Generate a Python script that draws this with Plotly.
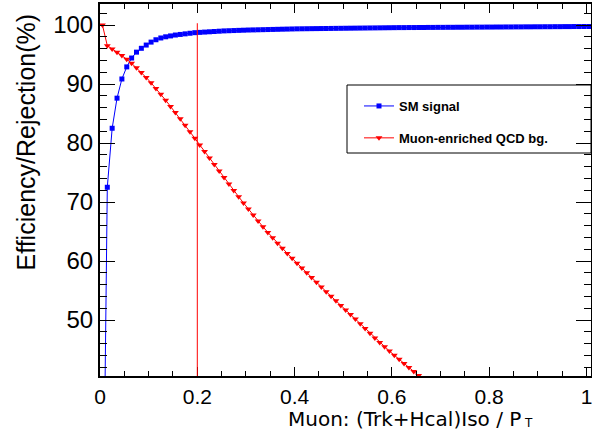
import plotly.graph_objects as go

# bin centres of the isolation variable
x_bins = [0.005, 0.015, 0.025, 0.035, 0.045, 0.055, 0.065, 0.075, 0.085, 0.095,
          0.105, 0.115, 0.125, 0.135, 0.145, 0.155, 0.165, 0.175, 0.185, 0.195,
          0.205, 0.215, 0.225, 0.235, 0.245, 0.255, 0.265, 0.275, 0.285, 0.295,
          0.305, 0.315, 0.325, 0.335, 0.345, 0.355, 0.365, 0.375, 0.385, 0.395,
          0.405, 0.415, 0.425, 0.435, 0.445, 0.455, 0.465, 0.475, 0.485, 0.495,
          0.505, 0.515, 0.525, 0.535, 0.545, 0.555, 0.565, 0.575, 0.585, 0.595,
          0.605, 0.615, 0.625, 0.635, 0.645, 0.655, 0.665, 0.675, 0.685, 0.695,
          0.705, 0.715, 0.725, 0.735, 0.745, 0.755, 0.765, 0.775, 0.785, 0.795,
          0.805, 0.815, 0.825, 0.835, 0.845, 0.855, 0.865, 0.875, 0.885, 0.895,
          0.905, 0.915, 0.925, 0.935, 0.945, 0.955, 0.965, 0.975, 0.985, 0.995,
          1.005]

# SM signal efficiency (%)
signal_eff = [0.0, 72.5, 82.5, 87.6, 90.85, 92.9, 94.4, 95.4, 96.05, 96.6,
              97.1, 97.5, 97.8, 98.0, 98.15, 98.3, 98.4, 98.5, 98.6, 98.7,
              98.75, 98.8, 98.85, 98.9, 98.95, 99.0, 99.03, 99.06, 99.09, 99.12,
              99.15, 99.17, 99.19, 99.21, 99.23, 99.25, 99.27, 99.29, 99.31, 99.33,
              99.35, 99.36, 99.37, 99.38, 99.39, 99.40, 99.41, 99.42, 99.43, 99.44,
              99.45, 99.46, 99.47, 99.48, 99.49, 99.50, 99.51, 99.52, 99.53, 99.54,
              99.55, 99.56, 99.56, 99.57, 99.57, 99.58, 99.58, 99.59, 99.59, 99.60,
              99.60, 99.61, 99.61, 99.62, 99.62, 99.63, 99.63, 99.64, 99.64, 99.65,
              99.65, 99.66, 99.66, 99.67, 99.67, 99.68, 99.68, 99.69, 99.69, 99.70,
              99.70, 99.71, 99.71, 99.72, 99.72, 99.73, 99.73, 99.74, 99.74, 99.75,
              99.75]

# Muon-enriched QCD background rejection (%)
qcd_rej = [100.0, 96.5, 95.95, 95.4, 94.85, 94.2, 93.5, 92.75, 91.95, 91.1,
           90.2, 89.25, 88.25, 87.25, 86.2, 85.15, 84.1, 83.0, 81.9, 80.8,
           79.68, 78.56, 77.45, 76.34, 75.24, 74.14, 73.05, 71.97, 70.90, 69.84,
           68.80, 67.78, 66.78, 65.80, 64.85, 63.93, 63.03, 62.15, 61.29, 60.45,
           59.62, 58.80, 57.99, 57.19, 56.39, 55.60, 54.81, 54.03, 53.25, 52.47,
           51.70, 50.93, 50.17, 49.37, 48.57, 47.77, 46.97, 46.17, 45.45, 44.74,
           44.03, 43.33, 42.63, 41.94, 41.26, 40.58, 39.90]

cut_value = 0.2
cut_top = 100.3
x_range = [0.0, 1.0093]
y_range = [40.51, 103.56]
x_tick_vals = [0, 0.2, 0.4, 0.6, 0.8, 1.0]
x_tick_text = ["0", "0.2", "0.4", "0.6", "0.8", "1"]
y_tick_vals = [50, 60, 70, 80, 90, 100]

FONT = "Liberation Sans, Arial, Helvetica, sans-serif"
WIDE_FONT = "DejaVu Sans, Liberation Sans, sans-serif"

fig = go.Figure()
fig.add_trace(go.Scatter(
    x=x_bins[:len(signal_eff)], y=signal_eff, mode="lines+markers",
    name="SM signal", legendgroup="a",
    line=dict(color="#0000ff", width=1),
    marker=dict(symbol="square", size=5, color="#0000ff"),
))
fig.add_trace(go.Scatter(
    x=x_bins[:len(qcd_rej)], y=qcd_rej, mode="lines+markers",
    name="Muon-enriched QCD bg.", legendgroup="b",
    line=dict(color="#ff0000", width=1),
    marker=dict(symbol="triangle-down", size=6, color="#ff0000"),
))

# cut line
fig.add_shape(type="line", xref="x", yref="y", x0=cut_value, x1=cut_value,
              y0=y_range[0], y1=cut_top, line=dict(color="#ff0000", width=1))

# legend box
fig.add_shape(type="rect", xref="paper", yref="paper",
              x0=(347 - 100) / 491, x1=1.0,
              y0=(376 - 153) / 372, y1=(376 - 85) / 372,
              line=dict(color="black", width=1), fillcolor="white", layer="below")

fig.update_layout(
    width=592, height=432,
    margin=dict(l=100, r=1, t=4, b=56, autoexpand=False),
    paper_bgcolor="white", plot_bgcolor="white",
    font=dict(family=FONT, color="black"),
    showlegend=True,
    legend=dict(
        x=(359 - 100) / 491, y=(376 - 91) / 372, xanchor="left", yanchor="top",
        bgcolor="rgba(0,0,0,0)", borderwidth=0,
        font=dict(family=FONT, size=13, color="black", weight="bold"),
        traceorder="grouped", tracegroupgap=12,
    ),
    xaxis=dict(
        range=x_range, showgrid=False, zeroline=False,
        showline=True, linecolor="black", linewidth=2, mirror="allticks",
        ticks="inside", ticklen=9, tickwidth=1, tickcolor="black",
        tickvals=x_tick_vals, ticktext=x_tick_text,
        tickfont=dict(family=FONT, size=21, color="black"),
        ticklabelstandoff=1, ticklabeloverflow="allow",
        minor=dict(dtick=0.05, tick0=0, ticks="inside", ticklen=5, tickcolor="black", tickwidth=1),
    ),
    yaxis=dict(
        range=y_range, showgrid=False, zeroline=False,
        showline=True, linecolor="black", linewidth=2, mirror="allticks",
        ticks="inside", ticklen=15, tickwidth=1, tickcolor="black",
        tickvals=y_tick_vals,
        tickfont=dict(family=FONT, size=24, color="black"),
        minor=dict(dtick=2, tick0=0, ticks="inside", ticklen=7, tickcolor="black", tickwidth=1),
    ),
    annotations=[
        dict(text="Efficiency/Rejection(%)", textangle=-90,
             xref="paper", yref="paper", x=(25 - 100) / 491, y=(376 - 12) / 372,
             xanchor="center", yanchor="top", showarrow=False,
             font=dict(family=FONT, size=25, color="black")),
        dict(text="Muon: (Trk+Hcal)Iso / P",
             xref="paper", yref="paper", x=(286 - 100) / 491, y=(376 - 419) / 372,
             xanchor="left", yanchor="middle", showarrow=False,
             font=dict(family=WIDE_FONT, size=20, color="black")),
        dict(text="T",
             xref="paper", yref="paper", x=(522 - 100) / 491, y=(376 - 423) / 372,
             xanchor="left", yanchor="middle", showarrow=False,
             font=dict(family=WIDE_FONT, size=12, color="black")),
    ],
)

fig.write_html("out.html")
